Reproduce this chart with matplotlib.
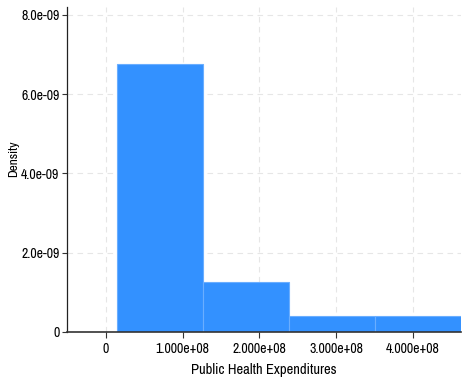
import matplotlib
matplotlib.use("Agg")
import matplotlib.pyplot as plt
from matplotlib import font_manager
from matplotlib.font_manager import FontProperties

# Data (histogram bins)
bin_edges = [1.4e7, 1.263e8, 2.386e8, 3.509e8, 4.632e8]
densities = [6.76e-9, 1.25e-9, 0.40e-9, 0.40e-9]
x_ticks = [0, 1e8, 2e8, 3e8, 4e8]
x_labels = ["0", "1.000e+08", "2.000e+08", "3.000e+08", "4.000e+08"]
y_ticks = [0, 2e-9, 4e-9, 6e-9, 8e-9]
y_labels = ["0", "2.0e-09", "4.0e-09", "6.0e-09", "8.0e-09"]

# find a narrow sans (Liberation Sans Narrow ~ Arial Narrow)
narrow_path = None
for f in font_manager.fontManager.ttflist:
    if f.name == 'Liberation Sans' and str(f.stretch) == 'condensed' and f.style == 'normal' and f.weight in (400, 'normal', 'regular'):
        narrow_path = f.fname
        break
if narrow_path is None:
    for f in font_manager.fontManager.ttflist:
        if f.name in ('Archivo Narrow', 'PT Sans Narrow', 'Roboto Condensed') and f.style == 'normal' and f.weight in (400, 'normal', 'regular'):
            narrow_path = f.fname
            break


def fp(size):
    if narrow_path:
        return FontProperties(fname=narrow_path, size=size)
    return FontProperties(family='Liberation Sans', size=size)


fig = plt.figure(figsize=(4.63, 3.78), dpi=100)
ax = fig.add_axes([0.1447, 0.1217, 0.851, 0.8598])

lefts = bin_edges[:-1]
widths = [bin_edges[i + 1] - bin_edges[i] for i in range(len(densities))]
ax.bar(lefts, densities, width=widths, align='edge', color='#3391ff',
       edgecolor='#6aaeff', linewidth=0.8, zorder=2)

ax.set_xlim(-5.1e7, bin_edges[-1])
ax.set_ylim(0, 8.2e-9)
ax.set_xticks(x_ticks)
ax.set_xticklabels(x_labels, fontproperties=fp(10))
ax.set_yticks(y_ticks)
ax.set_yticklabels(y_labels, fontproperties=fp(10))
ax.tick_params(width=0.8, color='#333333')
ax.tick_params(axis='x', length=4, pad=3)
ax.tick_params(axis='y', length=3.5, pad=2)

ax.grid(True, linestyle=(0, (5, 4)), color='#e6e6e6', linewidth=0.8, zorder=0)
ax.set_axisbelow(True)
for s in ['top', 'right']:
    ax.spines[s].set_visible(False)
ax.spines['left'].set_color('#222222')
ax.spines['left'].set_linewidth(0.9)
ax.spines['bottom'].set_color('#333333')
ax.spines['bottom'].set_linewidth(1.2)

ax.set_xlabel("Public Health Expenditures", fontproperties=fp(10.5), labelpad=5)
ax.set_ylabel("Density", fontproperties=fp(9.5))
ax.yaxis.set_label_coords(-0.122, 0.532)

fig.savefig("out.png", dpi=100)
